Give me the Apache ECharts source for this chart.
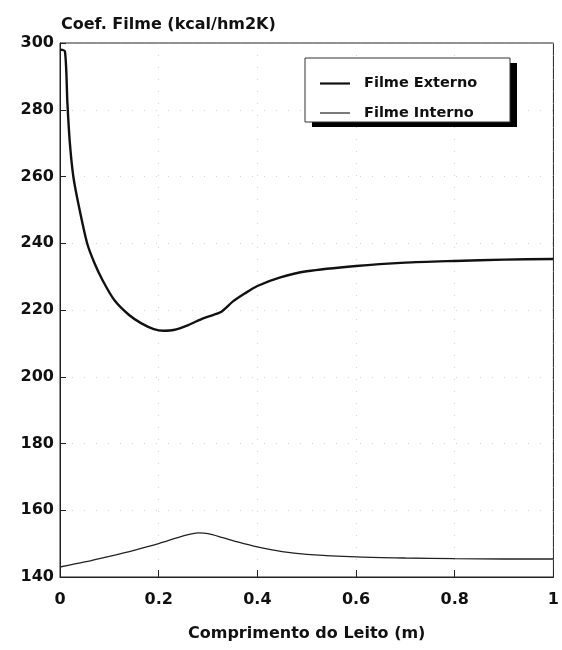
<!DOCTYPE html>
<html>
<head>
<meta charset="utf-8">
<script src="https://cdn.jsdelivr.net/npm/echarts@6/dist/echarts.min.js"></script>
<style>html,body{margin:0;padding:0;background:#fff}#c{width:562px;height:650px}</style>
</head>
<body>
<div id="c"></div>
<script>
const xExterno = [0, 0.01, 0.015, 0.02, 0.027, 0.037, 0.055, 0.07, 0.086, 0.11, 0.14, 0.165, 0.19, 0.21, 0.23, 0.26, 0.29, 0.31, 0.327, 0.35, 0.375, 0.4, 0.445, 0.5, 0.6, 0.7, 0.8, 0.9, 1.0];
const yExterno = [298, 297.5, 282, 270, 260, 252, 240, 234, 229, 223, 218.5, 216, 214.3, 213.8, 214, 215.5, 217.5, 218.5, 219.5, 222.5, 225, 227.2, 229.7, 231.6, 233.2, 234.2, 234.7, 235.1, 235.3];
const xInterno = [0, 0.05, 0.1, 0.15, 0.2, 0.25, 0.28, 0.3, 0.33, 0.36, 0.4, 0.45, 0.5, 0.6, 0.7, 0.8, 0.9, 1.0];
const yInterno = [143, 144.5, 146.2, 148, 150, 152.3, 153.2, 153, 151.8, 150.5, 149, 147.6, 146.8, 146, 145.7, 145.5, 145.4, 145.4];
const xTicks = [0, 0.2, 0.4, 0.6, 0.8, 1];
const yTicks = [140, 160, 180, 200, 220, 240, 260, 280, 300];
const seriesNames = ['Filme Externo', 'Filme Interno'];

const pairs = (xs, ys) => xs.map((x, i) => [x, ys[i]]);
const font = '"DejaVu Sans", "Liberation Sans", Arial, sans-serif';

const chart = echarts.init(document.getElementById('c'), null, {renderer: 'canvas'});
chart.setOption({
  animation: false,
  backgroundColor: '#fff',
  title: {
    text: 'Coef. Filme (kcal/hm2K)',
    left: 61, top: 17, padding: 0,
    textStyle: {fontFamily: font, fontSize: 16, fontWeight: 'bold', color: '#111'}
  },
  graphic: [
    {type: 'rect', z: 3, shape: {x: 312, y: 63, width: 205, height: 64}, style: {fill: '#000'}},
    {type: 'rect', z: 3, shape: {x: 305, y: 58, width: 205, height: 64}, style: {fill: '#fff', stroke: '#333', lineWidth: 1}}
  ],
  legend: {
    orient: 'vertical',
    left: 320, top: 76, padding: 0,
    itemWidth: 30, itemHeight: 14, itemGap: 14.5,
    textStyle: {fontFamily: font, fontSize: 14.5, fontWeight: 'bold', color: '#111', padding: [0, 0, 0, 9]},
    data: [
      {name: seriesNames[0], icon: 'path://M0,0H30V2.2H0Z'},
      {name: seriesNames[1], icon: 'path://M0,0H30V1.2H0Z'}
    ]
  },
  grid: {left: 60, right: 8, top: 43, bottom: 73, show: true, borderColor: '#222', borderWidth: 1},
  xAxis: {
    type: 'value', min: xTicks[0], max: xTicks[xTicks.length - 1], interval: 0.2,
    name: 'Comprimento do Leito (m)', nameLocation: 'middle', nameGap: 49,
    nameTextStyle: {fontFamily: font, fontSize: 16, fontWeight: 'bold', color: '#111'},
    axisLine: {lineStyle: {color: '#222'}},
    axisTick: {inside: true, length: 7, lineStyle: {color: '#222'}},
    axisLabel: {fontFamily: font, fontSize: 16, fontWeight: 'bold', color: '#111', margin: 15},
    splitLine: {show: true, lineStyle: {color: '#aaa', type: [1, 11], width: 1, opacity: 0.5}}
  },
  yAxis: {
    type: 'value', min: yTicks[0], max: yTicks[yTicks.length - 1], interval: 20,
    axisLine: {show: true, lineStyle: {color: '#222'}},
    axisTick: {show: true, inside: true, length: 6, lineStyle: {color: '#222'}},
    axisLabel: {fontFamily: font, fontSize: 16, fontWeight: 'bold', color: '#111', margin: 6},
    splitLine: {show: true, lineStyle: {color: '#aaa', type: [1, 11], width: 1, opacity: 0.5}}
  },
  series: [
    {name: seriesNames[0], type: 'line', data: pairs(xExterno, yExterno), symbol: 'none', smooth: 0.25,
     lineStyle: {color: '#111', width: 2.4}, itemStyle: {color: '#111'}},
    {name: seriesNames[1], type: 'line', data: pairs(xInterno, yInterno), symbol: 'none', smooth: 0.3,
     lineStyle: {color: '#222', width: 1.3}, itemStyle: {color: '#222'}}
  ]
});
</script>
</body>
</html>
